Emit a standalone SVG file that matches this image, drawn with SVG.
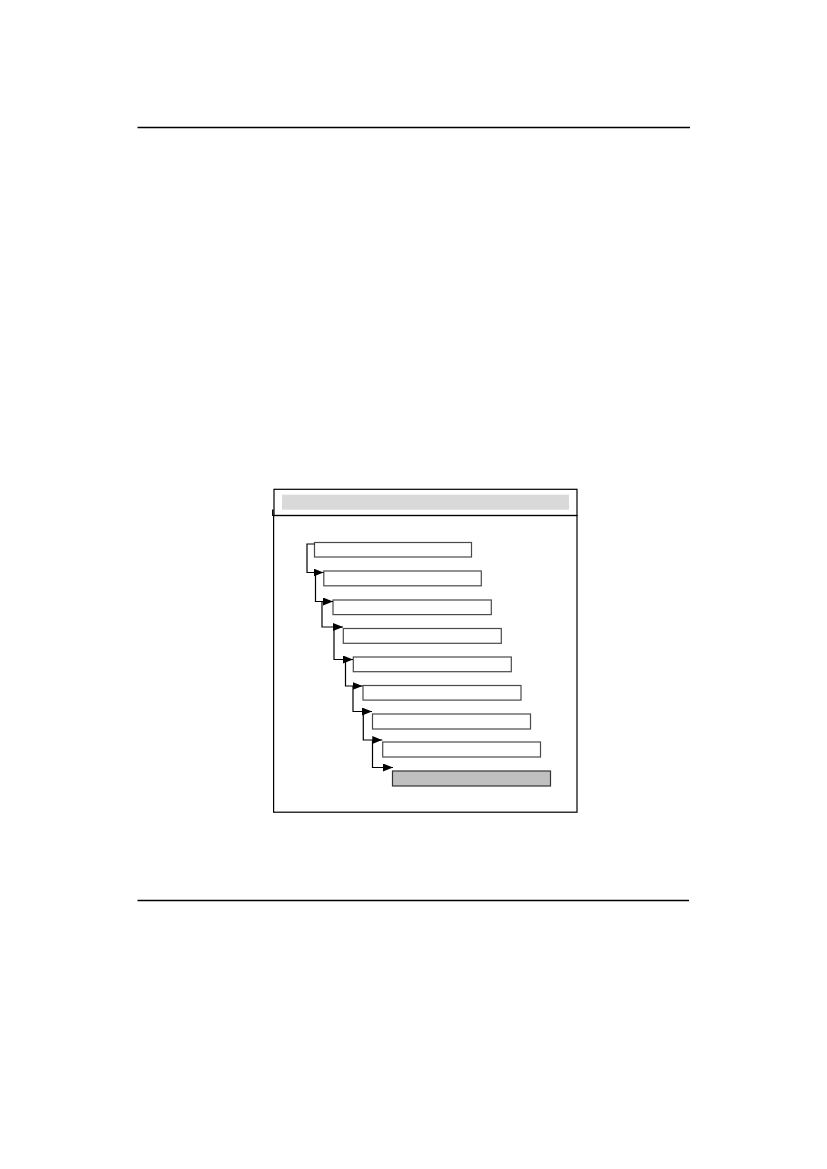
<svg xmlns="http://www.w3.org/2000/svg" width="827" height="1169" viewBox="0 0 827 1169">
<style>
.rule{stroke:#000;stroke-width:1.3;fill:none}
.frame{stroke:#000;stroke-width:1.2;fill:none}
.bar{fill:#fff;stroke:#4a4a4a;stroke-width:1.2}
.last{fill:#c0c0c0;stroke:#333;stroke-width:1.2}
.conn{fill:none;stroke:#000;stroke-width:1.2}
</style>
<defs>
<marker id="arr" markerWidth="10" markerHeight="8" refX="10" refY="4" orient="auto" markerUnits="userSpaceOnUse">
<path d="M0,0 L10,4 L0,8 Z" fill="#000"/>
</marker>
</defs>
<rect width="827" height="1169" fill="#fff"/>
<line class="rule" x1="137.5" y1="127.5" x2="690" y2="127.5"/>
<line class="rule" x1="137.5" y1="900.5" x2="689" y2="900.5"/>
<g id="frame">
<rect class="frame" x="274" y="489.3" width="303" height="26.2"/>
<rect class="frame" x="273.6" y="515.5" width="303.4" height="296.7"/>
<line x1="272.8" y1="509.5" x2="272.8" y2="516" stroke="#000" stroke-width="1.5"/>
<rect id="title-bar" x="282" y="494.7" width="287" height="15" fill="#d9d9d9"/>
</g>
<g id="nodes">
<rect id="n1" class="bar" x="314.5" y="542.5" width="157" height="14.5"/>
<rect id="n2" class="bar" x="323.8" y="571" width="157.5" height="14.8"/>
<rect id="n3" class="bar" x="333" y="600" width="158.3" height="14.6"/>
<rect id="n4" class="bar" x="343.3" y="628.5" width="158" height="14.8"/>
<rect id="n5" class="bar" x="353.3" y="657" width="158" height="14.7"/>
<rect id="n6" class="bar" x="363" y="685.5" width="158" height="14.6"/>
<rect id="n7" class="bar" x="372.5" y="714" width="158" height="15"/>
<rect id="n8" class="bar" x="382.7" y="742" width="157.8" height="15"/>
<rect id="n9" class="last" x="392.5" y="771" width="158" height="15"/>
</g>
<g id="connectors">
<path class="conn" d="M314.5,544 H307 V572.5 H323.5" marker-end="url(#arr)"/>
<path class="conn" d="M315.5,572.5 V601.5 H333" marker-end="url(#arr)"/>
<path class="conn" d="M322,601.5 V627 H343" marker-end="url(#arr)"/>
<path class="conn" d="M334,627 V659.5 H353" marker-end="url(#arr)"/>
<path class="conn" d="M345.5,659.5 V686 H362.5" marker-end="url(#arr)"/>
<path class="conn" d="M353,686 V711.5 H372" marker-end="url(#arr)"/>
<path class="conn" d="M363.3,711.5 V740 H382.3" marker-end="url(#arr)"/>
<path class="conn" d="M372.5,740 V767.5 H393" marker-end="url(#arr)"/>
</g>
</svg>
